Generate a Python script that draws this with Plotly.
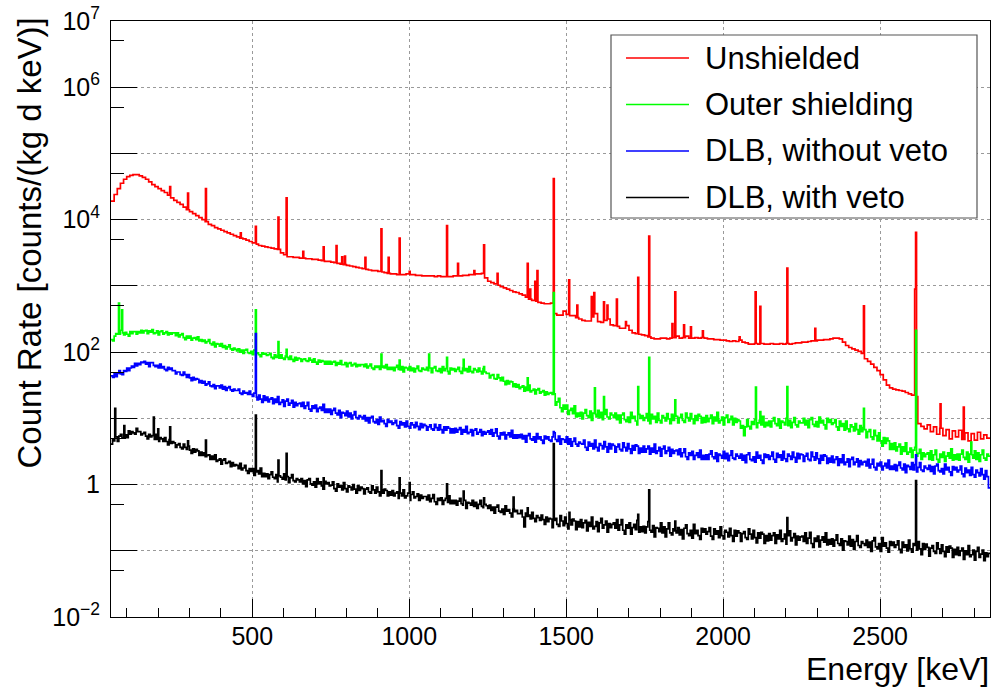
import numpy as np
import plotly.graph_objects as go

# Energy range of the stored spectra (keV)
E_MIN, E_MAX = 50, 2850

series_names = ["Unshielded", "Outer shielding", "DLB, without veto", "DLB, with veto"]
series_colors = ["#ff0000", "#00ff00", "#0000ff", "#000000"]

# log10 of the count rate [counts/(kg d keV)] in equal-width bins from 50 to 2850 keV
# (10 keV bins for the unshielded spectrum, 5 keV bins for the others)
unshielded_log10 = [
    4.28, 4.38, 4.47, 4.55, 4.61, 4.65, 4.67, 4.68, 4.68, 4.66,
    4.64, 4.61, 4.57, 4.53, 4.50, 4.47, 4.44, 4.41, 4.37, 4.33,
    4.29, 4.26, 4.23, 4.19, 4.15, 4.12, 4.09, 4.06, 4.03, 4.00,
    3.97, 3.93, 3.91, 3.88, 3.86, 3.84, 3.82, 3.80, 3.78, 3.76,
    3.74, 3.72, 3.71, 3.69, 3.67, 3.65, 3.63, 3.61, 3.60, 3.59,
    3.58, 3.57, 3.56, 3.55, 3.50, 3.47, 3.44, 3.44, 3.43, 3.43,
    3.42, 3.42, 3.41, 3.41, 3.40, 3.40, 3.39, 3.38, 3.37, 3.37,
    3.36, 3.35, 3.34, 3.33, 3.32, 3.31, 3.30, 3.29, 3.28, 3.27,
    3.26, 3.25, 3.24, 3.23, 3.23, 3.22, 3.21, 3.20, 3.19, 3.18,
    3.18, 3.17, 3.17, 3.17, 3.18, 3.17, 3.17, 3.16, 3.16, 3.15,
    3.15, 3.15, 3.15, 3.14, 3.15, 3.14, 3.14, 3.14, 3.14, 3.15,
    3.15, 3.15, 3.16, 3.16, 3.17, 3.17, 3.18, 3.18, 3.19, 3.12,
    3.07, 3.05, 3.03, 3.01, 2.99, 2.97, 2.95, 2.93, 2.91, 2.90,
    2.88, 2.86, 2.83, 2.80, 2.78, 2.77, 2.75, 2.74, 2.73, 2.73,
    2.74, 2.58, 2.56, 2.56, 2.62, 2.57, 2.55, 2.55, 2.52, 2.50,
    2.48, 2.47, 2.47, 2.53, 2.58, 2.46, 2.45, 2.48, 2.50, 2.41,
    2.40, 2.39, 2.36, 2.36, 2.40, 2.33, 2.29, 2.28, 2.27, 2.26,
    2.25, 2.23, 2.21, 2.20, 2.20, 2.21, 2.21, 2.20, 2.21, 2.22,
    2.24, 2.21, 2.22, 2.24, 2.21, 2.21, 2.22, 2.21, 2.22, 2.21,
    2.20, 2.20, 2.19, 2.19, 2.18, 2.18, 2.17, 2.16, 2.17, 2.16,
    2.18, 2.15, 2.14, 2.12, 2.12, 2.13, 2.12, 2.13, 2.12, 2.12,
    2.13, 2.12, 2.12, 2.13, 2.12, 2.13, 2.12, 2.13, 2.14, 2.14,
    2.15, 2.15, 2.16, 2.17, 2.17, 2.18, 2.18, 2.19, 2.19, 2.20,
    2.21, 2.21, 2.20, 2.15, 2.10, 2.07, 2.05, 2.03, 2.01, 1.98,
    1.90, 1.86, 1.82, 1.77, 1.72, 1.66, 1.58, 1.50, 1.46, 1.44,
    1.43, 1.42, 1.41, 1.39, 1.37, 1.35, 1.33, 0.92, 0.88, 0.84,
    0.90, 0.80, 0.87, 0.76, 0.85, 0.74, 0.83, 0.69, 0.81, 0.72,
    0.82, 0.68, 0.78, 0.66, 0.77, 0.67, 0.79, 0.69, 0.75, 0.70,
]
unshielded_peaks = [
    (238, 4.50), (295, 4.40), (352, 4.47), (463, 3.80), (511, 3.90), (583, 4.04),
    (609, 4.33), (662, 3.52), (727, 3.59), (768, 3.61), (786, 3.44), (795, 3.45),
    (860, 3.43), (911, 3.86), (934, 3.43), (969, 3.72), (1001, 3.22), (1120, 3.91),
    (1155, 3.34), (1207, 3.23), (1238, 3.62), (1281, 3.19), (1377, 3.34), (1385, 2.95),
    (1401, 3.07), (1408, 3.23), (1460, 4.62), (1509, 3.09), (1535, 2.71), (1581, 2.84),
    (1589, 2.90), (1620, 2.76), (1631, 2.71), (1661, 2.80), (1690, 2.46), (1729, 3.13),
    (1764, 3.75), (1838, 2.43), (1847, 2.91), (1875, 2.41), (1897, 2.38), (1935, 2.32),
    (2052, 2.23), (2103, 2.91), (2118, 2.69), (2204, 3.27), (2293, 2.36), (2448, 2.70),
    (2611, 2.95), (2614, 3.81), (2692, 1.22), (2766, 1.17),
]

outer_log10 = [
    2.19, 2.17, 2.24, 2.28, 2.27, 2.27, 2.33, 2.29, 2.26, 2.30, 2.27, 2.24, 2.31, 2.28, 2.31, 2.31, 2.27, 2.31, 2.29, 2.33,
    2.29, 2.32, 2.33, 2.28, 2.32, 2.30, 2.34, 2.28, 2.29, 2.32, 2.26, 2.31, 2.32, 2.27, 2.29, 2.31, 2.26, 2.29, 2.27, 2.29,
    2.29, 2.25, 2.29, 2.23, 2.26, 2.28, 2.22, 2.19, 2.24, 2.21, 2.24, 2.18, 2.21, 2.22, 2.19, 2.23, 2.17, 2.19, 2.16, 2.18,
    2.14, 2.16, 2.19, 2.13, 2.11, 2.15, 2.08, 2.13, 2.12, 2.09, 2.13, 2.07, 2.10, 2.05, 2.08, 2.11, 2.05, 2.03, 2.06, 2.04,
    2.02, 2.05, 2.00, 2.03, 1.98, 2.03, 2.04, 1.99, 1.98, 2.01, 1.96, 2.03, 1.98, 1.99, 1.96, 1.93, 1.99, 1.97, 1.98, 1.95,
    1.96, 1.98, 1.92, 1.90, 1.96, 1.92, 1.94, 1.91, 1.96, 1.91, 1.89, 1.94, 1.92, 1.89, 1.94, 1.89, 1.86, 1.92, 1.88, 1.91,
    1.90, 1.86, 1.89, 1.90, 1.87, 1.86, 1.91, 1.88, 1.85, 1.90, 1.85, 1.82, 1.88, 1.85, 1.87, 1.86, 1.82, 1.86, 1.82, 1.86,
    1.82, 1.85, 1.86, 1.80, 1.84, 1.82, 1.87, 1.81, 1.81, 1.84, 1.78, 1.83, 1.84, 1.79, 1.81, 1.83, 1.78, 1.81, 1.79, 1.81,
    1.81, 1.78, 1.82, 1.76, 1.79, 1.82, 1.76, 1.74, 1.79, 1.77, 1.79, 1.74, 1.77, 1.79, 1.76, 1.81, 1.74, 1.77, 1.74, 1.77,
    1.72, 1.77, 1.80, 1.74, 1.73, 1.78, 1.70, 1.77, 1.76, 1.73, 1.78, 1.72, 1.76, 1.70, 1.75, 1.79, 1.72, 1.71, 1.76, 1.74,
    1.73, 1.77, 1.72, 1.76, 1.69, 1.76, 1.78, 1.72, 1.71, 1.75, 1.69, 1.78, 1.72, 1.75, 1.71, 1.67, 1.76, 1.73, 1.75, 1.71,
    1.74, 1.77, 1.71, 1.68, 1.76, 1.72, 1.75, 1.70, 1.78, 1.71, 1.69, 1.75, 1.73, 1.70, 1.76, 1.71, 1.67, 1.75, 1.70, 1.68,
    1.68, 1.61, 1.65, 1.66, 1.60, 1.59, 1.66, 1.61, 1.57, 1.62, 1.56, 1.51, 1.57, 1.52, 1.56, 1.55, 1.48, 1.52, 1.47, 1.51,
    1.45, 1.47, 1.49, 1.41, 1.47, 1.42, 1.50, 1.40, 1.42, 1.44, 1.37, 1.43, 1.45, 1.38, 1.40, 1.42, 1.35, 1.40, 1.36, 1.38,
    1.39, 1.36, 1.37, 1.20, 1.25, 1.30, 1.16, 1.10, 1.20, 1.14, 1.20, 1.06, 1.12, 1.15, 1.07, 1.19, 1.02, 1.08, 1.03, 1.09,
    0.99, 1.08, 1.13, 1.04, 1.01, 1.11, 0.97, 1.08, 1.06, 1.02, 1.12, 1.01, 1.09, 0.98, 1.06, 1.13, 1.02, 0.99, 1.08, 1.05,
    1.01, 1.08, 0.98, 1.05, 0.93, 1.05, 1.08, 0.98, 0.95, 1.02, 0.94, 1.09, 1.00, 1.03, 0.96, 0.90, 1.06, 1.00, 1.04, 0.97,
    1.01, 1.07, 0.96, 0.92, 1.06, 0.99, 1.03, 0.94, 1.08, 0.97, 0.93, 1.04, 1.01, 0.96, 1.07, 0.99, 0.92, 1.06, 0.97, 1.04,
    1.03, 0.93, 1.01, 1.06, 0.97, 0.94, 1.08, 1.01, 0.96, 1.07, 0.99, 0.92, 1.04, 0.97, 1.06, 1.03, 0.93, 1.01, 0.94, 1.04,
    0.95, 1.00, 1.05, 0.92, 1.02, 0.96, 1.09, 0.93, 0.97, 1.02, 0.90, 1.01, 1.05, 0.94, 0.98, 1.03, 0.90, 1.00, 0.94, 0.98,
    0.96, 0.85, 0.89, 0.74, 0.87, 0.98, 0.88, 0.84, 0.95, 0.91, 0.98, 0.86, 0.93, 0.97, 0.90, 1.03, 0.87, 0.94, 0.89, 0.96,
    0.87, 0.96, 1.01, 0.92, 0.89, 0.99, 0.85, 0.96, 0.94, 0.90, 1.00, 0.89, 0.97, 0.86, 0.94, 1.01, 0.90, 0.87, 0.96, 0.93,
    0.93, 1.00, 0.90, 0.97, 0.86, 0.98, 1.01, 0.91, 0.88, 0.95, 0.87, 1.02, 0.93, 0.97, 0.90, 0.84, 1.00, 0.94, 0.98, 0.91,
    0.93, 0.98, 0.87, 0.82, 0.96, 0.88, 0.92, 0.82, 0.96, 0.84, 0.80, 0.90, 0.87, 0.81, 0.92, 0.83, 0.76, 0.89, 0.80, 0.86,
    0.83, 0.71, 0.80, 0.83, 0.72, 0.68, 0.82, 0.74, 0.66, 0.78, 0.66, 0.58, 0.71, 0.62, 0.70, 0.66, 0.53, 0.62, 0.53, 0.63,
    0.51, 0.57, 0.61, 0.46, 0.57, 0.50, 0.63, 0.46, 0.49, 0.55, 0.41, 0.52, 0.56, 0.43, 0.47, 0.53, 0.38, 0.48, 0.42, 0.46,
    0.48, 0.38, 0.51, 0.37, 0.45, 0.52, 0.38, 0.34, 0.46, 0.41, 0.49, 0.35, 0.43, 0.48, 0.40, 0.54, 0.37, 0.45, 0.38, 0.46,
    0.37, 0.46, 0.52, 0.41, 0.38, 0.49, 0.34, 0.46, 0.45, 0.40, 0.51, 0.38, 0.48, 0.35, 0.45, 0.52, 0.40, 0.37, 0.46, 0.43,
]
outer_peaks = [
    (75, 2.74), (85, 2.64), (511, 2.64), (583, 2.16), (609, 2.04), (911, 1.97),
    (969, 1.88), (1063, 1.97), (1120, 1.92), (1173, 1.89), (1238, 1.78), (1377, 1.61),
    (1460, 2.90), (1591, 1.46), (1620, 1.33), (1729, 1.48), (1764, 1.92), (1847, 1.28),
    (2104, 1.47), (2118, 1.10), (2204, 1.48), (2448, 1.15), (2614, 2.33), (2790, 0.64),
]

dlb_noveto_log10 = [
    1.64, 1.62, 1.67, 1.63, 1.68, 1.72, 1.67, 1.66, 1.72, 1.71, 1.76, 1.72, 1.76, 1.79, 1.77, 1.83, 1.79, 1.83, 1.81, 1.85,
    1.84, 1.86, 1.82, 1.84, 1.78, 1.84, 1.84, 1.80, 1.78, 1.80, 1.76, 1.82, 1.76, 1.78, 1.74, 1.72, 1.77, 1.74, 1.76, 1.72,
    1.72, 1.67, 1.70, 1.70, 1.66, 1.65, 1.70, 1.66, 1.62, 1.66, 1.61, 1.57, 1.62, 1.58, 1.60, 1.59, 1.54, 1.57, 1.53, 1.56,
    1.50, 1.52, 1.55, 1.49, 1.48, 1.51, 1.45, 1.49, 1.49, 1.46, 1.50, 1.44, 1.48, 1.42, 1.46, 1.48, 1.43, 1.41, 1.44, 1.42,
    1.42, 1.44, 1.38, 1.36, 1.41, 1.38, 1.39, 1.36, 1.41, 1.36, 1.33, 1.38, 1.32, 1.28, 1.35, 1.29, 1.24, 1.34, 1.27, 1.32,
    1.25, 1.29, 1.31, 1.22, 1.29, 1.24, 1.33, 1.21, 1.24, 1.28, 1.18, 1.26, 1.29, 1.20, 1.23, 1.27, 1.17, 1.24, 1.19, 1.22,
    1.23, 1.18, 1.24, 1.15, 1.19, 1.24, 1.14, 1.11, 1.19, 1.15, 1.20, 1.10, 1.15, 1.17, 1.12, 1.21, 1.09, 1.14, 1.09, 1.14,
    1.06, 1.12, 1.15, 1.08, 1.05, 1.12, 1.01, 1.09, 1.08, 1.04, 1.11, 1.02, 1.08, 0.99, 1.05, 1.10, 1.01, 0.99, 1.04, 1.02,
    0.99, 1.04, 0.96, 1.01, 0.93, 1.01, 1.03, 0.95, 0.93, 0.98, 0.91, 1.02, 0.95, 0.97, 0.92, 0.88, 0.98, 0.94, 0.96, 0.91,
    0.93, 0.97, 0.89, 0.85, 0.95, 0.90, 0.93, 0.87, 0.96, 0.88, 0.85, 0.93, 0.90, 0.86, 0.94, 0.88, 0.83, 0.92, 0.86, 0.91,
    0.89, 0.82, 0.87, 0.90, 0.84, 0.82, 0.91, 0.86, 0.82, 0.90, 0.83, 0.78, 0.87, 0.82, 0.87, 0.85, 0.78, 0.84, 0.78, 0.85,
    0.79, 0.83, 0.86, 0.76, 0.83, 0.79, 0.88, 0.77, 0.79, 0.83, 0.74, 0.82, 0.84, 0.76, 0.79, 0.83, 0.74, 0.80, 0.76, 0.79,
    0.81, 0.76, 0.83, 0.73, 0.78, 0.84, 0.73, 0.69, 0.78, 0.75, 0.79, 0.69, 0.75, 0.78, 0.72, 0.82, 0.70, 0.75, 0.70, 0.75,
    0.71, 0.76, 0.69, 0.74, 0.64, 0.74, 0.77, 0.69, 0.67, 0.72, 0.64, 0.77, 0.69, 0.72, 0.67, 0.62, 0.73, 0.69, 0.72, 0.67,
    0.65, 0.72, 0.78, 0.68, 0.65, 0.73, 0.61, 0.69, 0.68, 0.64, 0.72, 0.61, 0.69, 0.58, 0.65, 0.70, 0.61, 0.58, 0.64, 0.62,
    0.61, 0.67, 0.56, 0.52, 0.64, 0.58, 0.62, 0.54, 0.67, 0.56, 0.51, 0.62, 0.59, 0.54, 0.65, 0.57, 0.49, 0.62, 0.54, 0.61,
    0.59, 0.49, 0.57, 0.61, 0.53, 0.51, 0.63, 0.56, 0.51, 0.62, 0.54, 0.47, 0.59, 0.52, 0.60, 0.58, 0.47, 0.55, 0.49, 0.58,
    0.49, 0.54, 0.58, 0.46, 0.55, 0.49, 0.61, 0.47, 0.51, 0.56, 0.43, 0.54, 0.58, 0.47, 0.51, 0.56, 0.43, 0.53, 0.47, 0.51,
    0.52, 0.45, 0.54, 0.42, 0.48, 0.54, 0.42, 0.38, 0.48, 0.44, 0.50, 0.38, 0.44, 0.48, 0.41, 0.52, 0.38, 0.44, 0.38, 0.45,
    0.38, 0.46, 0.51, 0.42, 0.39, 0.48, 0.35, 0.46, 0.44, 0.40, 0.50, 0.39, 0.47, 0.36, 0.44, 0.51, 0.40, 0.38, 0.46, 0.43,
    0.40, 0.46, 0.37, 0.44, 0.33, 0.45, 0.48, 0.38, 0.36, 0.42, 0.34, 0.49, 0.40, 0.44, 0.37, 0.32, 0.46, 0.41, 0.45, 0.38,
    0.43, 0.49, 0.38, 0.34, 0.47, 0.41, 0.45, 0.37, 0.50, 0.39, 0.35, 0.46, 0.43, 0.38, 0.49, 0.41, 0.34, 0.47, 0.39, 0.46,
    0.45, 0.35, 0.43, 0.47, 0.38, 0.36, 0.49, 0.42, 0.37, 0.48, 0.39, 0.32, 0.44, 0.37, 0.45, 0.43, 0.32, 0.40, 0.34, 0.43,
    0.33, 0.38, 0.42, 0.29, 0.39, 0.33, 0.45, 0.30, 0.34, 0.39, 0.27, 0.38, 0.41, 0.30, 0.34, 0.39, 0.27, 0.36, 0.30, 0.34,
    0.35, 0.28, 0.38, 0.25, 0.31, 0.38, 0.26, 0.22, 0.32, 0.28, 0.34, 0.22, 0.28, 0.32, 0.25, 0.37, 0.23, 0.28, 0.23, 0.30,
    0.21, 0.29, 0.34, 0.25, 0.22, 0.31, 0.18, 0.29, 0.27, 0.23, 0.33, 0.22, 0.30, 0.19, 0.26, 0.33, 0.22, 0.20, 0.28, 0.25,
    0.23, 0.29, 0.20, 0.27, 0.16, 0.28, 0.31, 0.21, 0.19, 0.24, 0.16, 0.31, 0.22, 0.26, 0.19, 0.14, 0.27, 0.22, 0.26, 0.19,
    0.22, 0.28, 0.16, 0.12, 0.25, 0.18, 0.22, 0.14, 0.26, 0.15, 0.11, 0.22, 0.18, 0.13, 0.24, 0.15, 0.08, 0.21, 0.12, -0.05,
]
dlb_noveto_peaks = [(511, 2.28), (1460, 0.80), (2614, 0.45)]

dlb_veto_log10 = [
    0.61, 0.69, 0.66, 0.72, 0.65, 0.73, 0.76, 0.70, 0.70, 0.75, 0.71, 0.81, 0.76, 0.80, 0.78, 0.76, 0.85, 0.80, 0.80, 0.75,
    0.77, 0.79, 0.73, 0.69, 0.76, 0.72, 0.74, 0.68, 0.76, 0.68, 0.65, 0.71, 0.69, 0.65, 0.71, 0.65, 0.60, 0.68, 0.62, 0.65,
    0.63, 0.56, 0.60, 0.62, 0.56, 0.54, 0.61, 0.56, 0.53, 0.58, 0.52, 0.47, 0.54, 0.49, 0.53, 0.51, 0.44, 0.49, 0.44, 0.48,
    0.42, 0.44, 0.45, 0.38, 0.43, 0.38, 0.45, 0.35, 0.37, 0.39, 0.31, 0.37, 0.39, 0.32, 0.33, 0.35, 0.27, 0.33, 0.28, 0.30,
    0.29, 0.24, 0.32, 0.22, 0.25, 0.29, 0.21, 0.17, 0.24, 0.20, 0.24, 0.14, 0.19, 0.21, 0.16, 0.25, 0.12, 0.17, 0.12, 0.16,
    0.09, 0.15, 0.19, 0.11, 0.09, 0.15, 0.04, 0.13, 0.11, 0.08, 0.16, 0.07, 0.12, 0.03, 0.10, 0.15, 0.06, 0.04, 0.09, 0.07,
    0.04, 0.09, 0.01, 0.06, -0.03, 0.07, 0.09, 0.01, -0.01, 0.04, -0.04, 0.09, 0.01, 0.04, -0.02, -0.07, 0.05, 0.01, 0.03, -0.02,
    -0.01, 0.04, -0.06, -0.10, 0.01, -0.04, -0.02, -0.08, 0.03, -0.06, -0.11, -0.02, -0.04, -0.08, 0.00, -0.07, -0.13, -0.02, -0.09, -0.04,
    -0.06, -0.14, -0.07, -0.05, -0.11, -0.13, -0.02, -0.08, -0.13, -0.04, -0.11, -0.17, -0.08, -0.13, -0.07, -0.09, -0.17, -0.11, -0.16, -0.09,
    -0.17, -0.13, -0.11, -0.21, -0.13, -0.17, -0.08, -0.20, -0.17, -0.13, -0.24, -0.15, -0.11, -0.20, -0.18, -0.14, -0.24, -0.16, -0.21, -0.18,
    -0.18, -0.23, -0.16, -0.26, -0.21, -0.15, -0.26, -0.30, -0.21, -0.24, -0.20, -0.30, -0.24, -0.21, -0.27, -0.17, -0.29, -0.24, -0.29, -0.24,
    -0.31, -0.25, -0.21, -0.29, -0.31, -0.24, -0.36, -0.27, -0.28, -0.31, -0.24, -0.33, -0.27, -0.36, -0.30, -0.24, -0.33, -0.35, -0.30, -0.32,
    -0.36, -0.31, -0.39, -0.34, -0.43, -0.34, -0.31, -0.40, -0.42, -0.37, -0.45, -0.32, -0.40, -0.38, -0.43, -0.49, -0.37, -0.41, -0.39, -0.44,
    -0.44, -0.39, -0.49, -0.64, -0.43, -0.48, -0.46, -0.52, -0.42, -0.51, -0.56, -0.47, -0.50, -0.54, -0.46, -0.53, -0.60, -0.49, -0.56, -0.51,
    -0.52, -0.65, -0.54, -0.51, -0.60, -0.63, -0.47, -0.55, -0.62, -0.49, -0.59, -0.67, -0.53, -0.61, -0.52, -0.55, -0.68, -0.56, -0.64, -0.53,
    -0.65, -0.58, -0.54, -0.70, -0.57, -0.63, -0.49, -0.67, -0.63, -0.56, -0.71, -0.58, -0.51, -0.66, -0.61, -0.55, -0.72, -0.59, -0.65, -0.60,
    -0.58, -0.66, -0.53, -0.69, -0.61, -0.53, -0.69, -0.75, -0.61, -0.66, -0.58, -0.75, -0.65, -0.60, -0.68, -0.54, -0.72, -0.64, -0.71, -0.63,
    -0.73, -0.64, -0.56, -0.69, -0.72, -0.62, -0.79, -0.65, -0.66, -0.71, -0.58, -0.73, -0.64, -0.79, -0.67, -0.58, -0.73, -0.76, -0.67, -0.70,
    -0.73, -0.65, -0.76, -0.68, -0.82, -0.66, -0.61, -0.74, -0.77, -0.69, -0.81, -0.60, -0.74, -0.69, -0.77, -0.83, -0.66, -0.72, -0.67, -0.75,
    -0.71, -0.65, -0.78, -0.83, -0.67, -0.75, -0.70, -0.80, -0.64, -0.77, -0.82, -0.69, -0.72, -0.79, -0.66, -0.77, -0.86, -0.69, -0.78, -0.70,
    -0.73, -0.86, -0.74, -0.71, -0.80, -0.83, -0.67, -0.75, -0.82, -0.69, -0.80, -0.88, -0.73, -0.81, -0.72, -0.75, -0.89, -0.77, -0.85, -0.74,
    -0.84, -0.77, -0.73, -0.89, -0.76, -0.82, -0.69, -0.86, -0.82, -0.75, -0.90, -0.77, -0.70, -0.85, -0.80, -0.74, -0.91, -0.78, -0.84, -0.79,
    -0.78, -0.86, -0.73, -0.89, -0.81, -0.72, -0.89, -0.95, -0.81, -0.86, -0.78, -0.94, -0.84, -0.79, -0.87, -0.73, -0.91, -0.83, -0.90, -0.82,
    -0.93, -0.84, -0.76, -0.89, -0.92, -0.82, -0.99, -0.85, -0.86, -0.91, -0.78, -0.93, -0.83, -0.98, -0.86, -0.77, -0.92, -0.95, -0.86, -0.89,
    -0.92, -0.84, -0.95, -0.87, -1.01, -0.85, -0.80, -0.94, -0.97, -0.89, -1.01, -0.80, -0.93, -0.88, -0.96, -1.02, -0.86, -0.92, -0.87, -0.95,
    -0.91, -0.85, -0.98, -1.03, -0.87, -0.95, -0.91, -1.00, -0.84, -0.97, -1.02, -0.89, -0.92, -0.99, -0.86, -0.97, -1.06, -0.89, -0.98, -0.90,
    -0.95, -1.08, -0.96, -0.92, -1.01, -1.04, -0.88, -0.97, -1.04, -0.91, -1.01, -1.09, -0.94, -1.02, -0.93, -0.96, -1.10, -0.98, -1.06, -0.95,
    -1.07, -1.00, -0.96, -1.13, -1.00, -1.06, -0.92, -1.09, -1.06, -0.99, -1.14, -1.01, -0.95, -1.10, -1.05, -0.99, -1.15, -1.03, -1.09, -1.04,
]
dlb_veto_peaks = [
    (63, 1.15), (92, 0.89), (186, 1.02), (200, 0.84), (238, 0.87), (295, 0.66),
    (352, 0.67), (511, 1.05), (583, 0.37), (609, 0.47), (727, 0.10), (911, 0.21),
    (969, 0.10), (1001, 0.03), (1120, 0.01), (1173, -0.10), (1238, -0.20), (1332, -0.19),
    (1377, -0.35), (1460, 0.62), (1510, -0.42), (1729, -0.45), (1764, -0.08), (1847, -0.55),
    (2204, -0.50), (2614, 0.06),
]

series_bins = [unshielded_log10, outer_log10, dlb_noveto_log10, dlb_veto_log10]
series_peaks = [unshielded_peaks, outer_peaks, dlb_noveto_peaks, dlb_veto_peaks]

# axis ticks
x_major = [500, 1000, 1500, 2000, 2500]
x_minor = [e for e in range(100, 2850, 100) if e % 500]
y_labelled = [1e-2, 1.0, 1e2, 1e4, 1e6, 1e7]
y_labels = ["10<sup>\u22122</sup>", "1", "10<sup>2</sup>", "10<sup>4</sup>",
            "10<sup>6</sup>", "10<sup>7</sup>"]
y_plain_decades = [1e-1, 1e1, 1e3, 1e5]
y_half_decades = [5 * 10.0 ** k for k in range(-2, 7)]

FONT = "Liberation Sans, Arial, Helvetica, sans-serif"


def spectrum(log_bins, peaks):
    """Step histogram on a 1 keV grid: equal-width bins with narrow gamma lines on top."""
    vals = np.asarray(log_bins, dtype=float)
    grid = np.arange(E_MIN, E_MAX)
    fine = vals[((grid - E_MIN) * vals.size) // (E_MAX - E_MIN)]
    for energy, height in peaks:
        i = int(energy) - E_MIN
        fine[max(i - 1, 0):i + 2] = height
    x = np.append(grid, E_MAX)
    y = 10.0 ** np.append(fine, fine[-1])
    return x, y


fig = go.Figure()
for name, color, bins, peaks in zip(series_names, series_colors, series_bins, series_peaks):
    x, y = spectrum(bins, peaks)
    fig.add_trace(go.Scatter(x=x, y=y, mode="lines", name=name,
                             line=dict(color=color, width=1.7, shape="hv"),
                             showlegend=False))
# empty trace that carries the second (tick-only) y axis
fig.add_trace(go.Scatter(x=[None], y=[None], yaxis="y2", mode="lines",
                         showlegend=False, hoverinfo="skip"))

# plot frame in pixels, used to place the legend box
PLOT_L, PLOT_R, PLOT_T, PLOT_B = 111, 990, 21, 617
W, H = 993, 689


def px_x(px):
    return (px - PLOT_L) / (PLOT_R - PLOT_L)


def px_y(py):
    return (PLOT_B - py) / (PLOT_B - PLOT_T)


shapes = [dict(type="rect", xref="paper", yref="paper",
               x0=px_x(611), x1=px_x(977), y0=px_y(218), y1=px_y(35),
               line=dict(color="#555555", width=1.2), fillcolor="white", layer="above")]
annotations = []
for k, (name, color) in enumerate(zip(series_names, series_colors)):
    yc = 58 + k * 46.5
    shapes.append(dict(type="line", xref="paper", yref="paper",
                       x0=px_x(626), x1=px_x(689), y0=px_y(yc), y1=px_y(yc),
                       line=dict(color=color, width=1.7), layer="above"))
    annotations.append(dict(text=name, xref="paper", yref="paper",
                            x=px_x(703), y=px_y(yc), xanchor="left", yanchor="middle",
                            showarrow=False, font=dict(family=FONT, size=31, color="black")))

annotations.append(dict(text="Count Rate [counts/(kg d keV)]", textangle=-90,
                        xref="paper", yref="paper", x=px_x(29), y=px_y(16),
                        xanchor="center", yanchor="top", showarrow=False,
                        font=dict(family=FONT, size=33, color="black")))
annotations.append(dict(text="Energy [keV]", xref="paper", yref="paper",
                        x=px_x(991), y=px_y(669), xanchor="right", yanchor="middle",
                        showarrow=False, font=dict(family=FONT, size=32, color="black")))

grid_style = dict(gridcolor="#9a9a9a", griddash="dot", gridwidth=1)

fig.update_layout(
    width=W, height=H,
    margin=dict(l=PLOT_L, r=W - PLOT_R, t=PLOT_T, b=H - PLOT_B, pad=0),
    paper_bgcolor="white", plot_bgcolor="white",
    font=dict(family=FONT, color="black"),
    shapes=shapes, annotations=annotations,
    showlegend=False,
    xaxis=dict(
        range=[E_MIN, E_MAX], tickmode="array", tickvals=x_major,
        ticktext=[str(v) for v in x_major],
        ticks="inside", ticklen=18, tickwidth=1, tickcolor="black",
        showline=True, linecolor="black", linewidth=1, mirror=True,
        showgrid=True, zeroline=False, ticklabelstandoff=-3, **grid_style,
        tickfont=dict(family=FONT, size=25, color="black"),
        minor=dict(tickmode="array", tickvals=x_minor, ticks="inside", ticklen=9,
                   tickcolor="black", tickwidth=1, showgrid=False),
    ),
    yaxis=dict(
        type="log", range=[-2, 7], tickmode="array", tickvals=y_labelled, ticktext=y_labels,
        ticks="inside", ticklen=26, tickwidth=1, tickcolor="black",
        showline=True, linecolor="black", linewidth=1, mirror=True,
        showgrid=True, zeroline=False, ticklabelstandoff=5, **grid_style,
        tickfont=dict(family=FONT, size=25, color="black"),
        minor=dict(tickmode="array", tickvals=y_plain_decades, ticks="inside", ticklen=26,
                   tickcolor="black", tickwidth=1, showgrid=True, **grid_style),
    ),
    yaxis2=dict(
        type="log", range=[-2, 7], overlaying="y", side="left", anchor="x",
        tickmode="array", tickvals=y_half_decades, showticklabels=False,
        ticks="inside", ticklen=13, tickwidth=1, tickcolor="black",
        showline=False, showgrid=False, zeroline=False,
    ),
)

fig.write_html("out.html", config={"displayModeBar": False})
